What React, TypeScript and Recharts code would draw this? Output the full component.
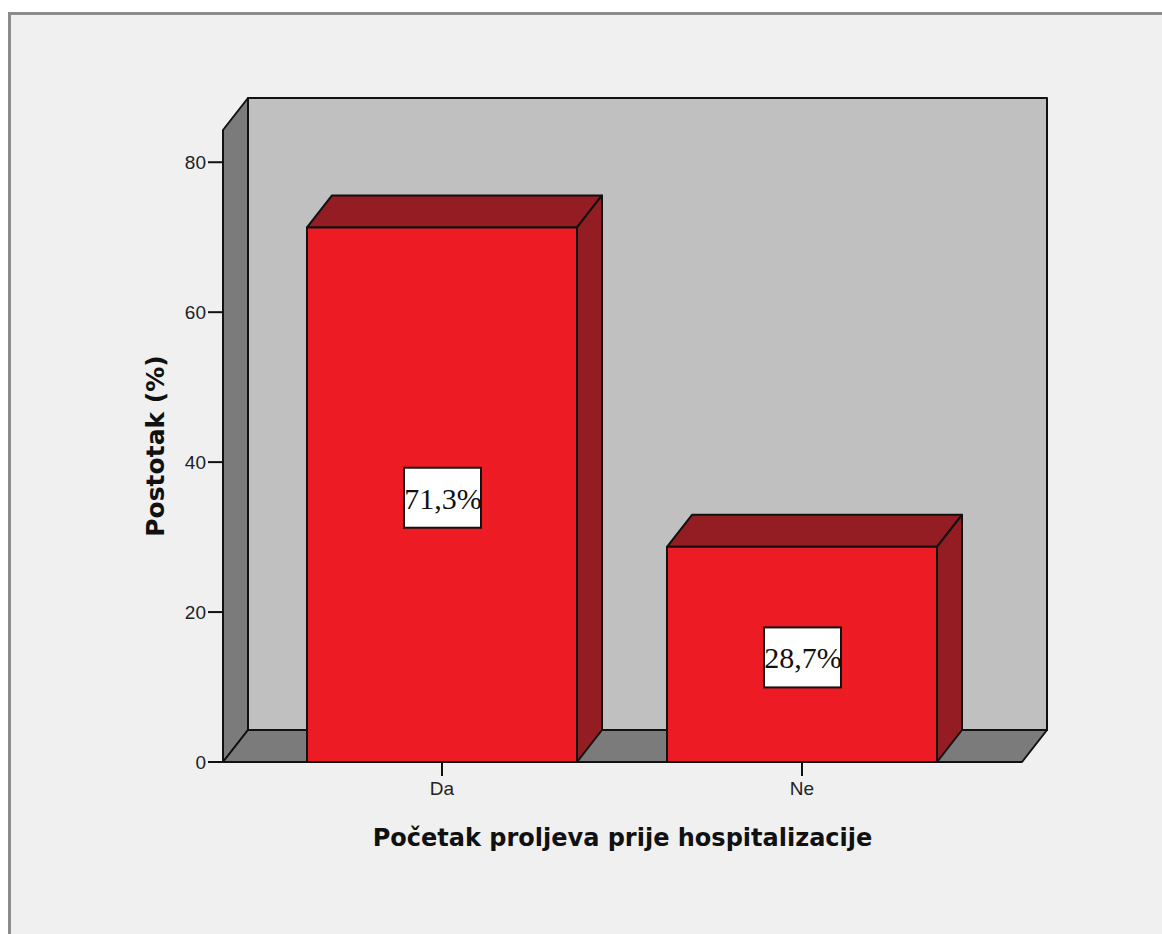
import { BarChart, Bar, XAxis, YAxis, ReferenceArea, LabelList } from "recharts";

const categories = ["Da", "Ne"];
const percents = [71.3, 28.7];
const yTicks = [0, 20, 40, 60, 80];

const data = categories.map((c, i) => ({ name: c, value: percents[i] }));

const DX = 25; // 3D depth
const DY = 32;
const PAD_L = 39;
const PAD_R = 40;

const fmt = (v: number) => v.toFixed(1).replace(".", ",") + "%";

// zidovi (back wall, left wall, floor)
function Walls(props: any) {
  const { x, y, width, height } = props;
  const l = x - PAD_L;
  const r = x + width + PAD_R;
  const t = y;
  const b = y + height;
  return (
    <g stroke="#111" strokeWidth={2} strokeLinejoin="round">
      <rect x={l + DX} y={t - DY} width={r - l} height={b - t} fill="#c0c0c0" />
      <polygon
        points={`${l},${b} ${l},${t} ${l + DX},${t - DY} ${l + DX},${b - DY}`}
        fill="#7b7b7b"
      />
      <polygon
        points={`${l},${b} ${l + DX},${b - DY} ${r + DX},${b - DY} ${r},${b}`}
        fill="#7b7b7b"
      />
    </g>
  );
}

function Bar3D(props: any) {
  const { x, y, width: w, height: h } = props;
  return (
    <g stroke="#111" strokeWidth={2} strokeLinejoin="round">
      <polygon
        points={`${x},${y} ${x + DX},${y - DY} ${x + w + DX},${y - DY} ${x + w},${y}`}
        fill="#931d22"
      />
      <polygon
        points={`${x + w},${y} ${x + w + DX},${y - DY} ${x + w + DX},${y + h - DY} ${x + w},${y + h}`}
        fill="#931d22"
      />
      <rect x={x} y={y} width={w} height={h} fill="#ed1c24" />
    </g>
  );
}

function ValueBox(props: any) {
  const { x, y, width, height, value } = props;
  const cx = x + width / 2;
  const cy = y + height / 2 + 3;
  return (
    <g>
      <rect x={cx - 38} y={cy - 30} width={77} height={60} fill="#fff" stroke="#111" strokeWidth={2} />
      <text
        x={cx + 1}
        y={cy + 11}
        textAnchor="middle"
        fontFamily="'Liberation Serif', 'Times New Roman', serif"
        fontSize={30}
        fill="#111"
      >
        {fmt(value)}
      </text>
    </g>
  );
}

export default function App() {
  return (
    <div style={{ position: "absolute", left: 0, top: 0, width: 1162, height: 934, background: "#fff", overflow: "hidden" }}>
      <div
        style={{
          position: "absolute",
          left: 8,
          top: 12,
          width: 1200,
          height: 1000,
          background: "#f0f0f0",
          borderLeft: "3px solid #8c8c8c",
          borderTop: "3px solid #8c8c8c",
        }}
      />
      <div style={{ position: "absolute", left: 0, top: 0 }}>
        <BarChart
          width={1162}
          height={934}
          data={data}
          margin={{ top: 130, right: 140, bottom: 132, left: 163 }}
          barCategoryGap="12.5%"
        >
          <ReferenceArea x1="Da" x2="Ne" y1={0} y2={84.3} ifOverflow="visible" shape={<Walls />} />
          <XAxis
            dataKey="name"
            padding={{ left: PAD_L, right: PAD_R }}
            height={40}
            tickSize={14}
            tickMargin={6}
            axisLine={{ stroke: "#111", strokeWidth: 2 }}
            tickLine={{ stroke: "#111", strokeWidth: 2 }}
            tick={{ fill: "#222", fontSize: 19, fontFamily: "'Liberation Sans', Arial, sans-serif" }}
            label={{
              value: "Početak proljeva prije hospitalizacije",
              position: "insideBottom",
              offset: -44,
              fill: "#111",
              fontSize: 24,
              fontWeight: "bold",
              fontFamily: "'DejaVu Sans', Verdana, sans-serif",
            }}
          />
          <YAxis
            domain={[0, 84.3]}
            ticks={yTicks}
            width={60}
            tickSize={15}
            tickMargin={2}
            axisLine={{ stroke: "#111", strokeWidth: 2 }}
            tickLine={{ stroke: "#111", strokeWidth: 2 }}
            tick={{ fill: "#222", fontSize: 19, fontFamily: "'Liberation Sans', Arial, sans-serif" }}
            label={{
              value: "Postotak (%)",
              angle: -90,
              position: "insideLeft",
              offset: -8,
              textAnchor: "middle",
              fill: "#111",
              fontSize: 25,
              fontWeight: "bold",
              fontFamily: "'DejaVu Sans', Verdana, sans-serif",
            }}
          />
          <Bar dataKey="value" shape={<Bar3D />} isAnimationActive={false}>
            <LabelList dataKey="value" content={<ValueBox />} />
          </Bar>
        </BarChart>
      </div>
    </div>
  );
}
